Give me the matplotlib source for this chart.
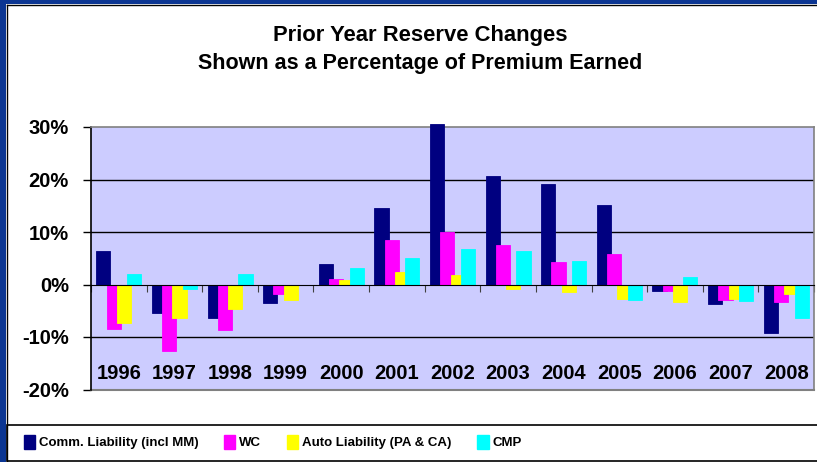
import matplotlib
matplotlib.use("Agg")
import matplotlib.pyplot as plt
import numpy as np
from matplotlib.patches import Patch, Rectangle
from matplotlib.transforms import blended_transform_factory

plt.rcParams['font.family'] = ['Liberation Sans', 'DejaVu Sans']

years = ["1996", "1997", "1998", "1999", "2000", "2001", "2002",
         "2003", "2004", "2005", "2006", "2007", "2008"]
comm_liability = [6.4, -5.4, -6.3, -3.5, 4.0, 14.5, 30.6, 20.6, 19.2, 15.2, -1.3, -3.8, -9.3]
wc = [-8.5, -12.6, -8.7, -1.8, 1.1, 8.4, 10.0, 7.6, 4.2, 5.9, -1.3, -3.0, -3.4]
auto_liability = [-7.3, -6.3, -4.6, -3.0, 0.9, 2.3, 1.8, -0.8, -1.5, -2.7, -3.4, -2.7, -1.8]
cmp_ = [2.0, -0.8, 2.0, 0.0, 3.1, 5.1, 6.7, 6.4, 4.5, -2.9, 1.5, -3.2, -6.3]

series_names = ["Comm. Liability (incl MM)", "WC", "Auto Liability (PA & CA)", "CMP"]
series = [comm_liability, wc, auto_liability, cmp_]
colors = ["#000080", "#FF00FF", "#FFFF00", "#00FFFF"]
y_ticks = [-20, -10, 0, 10, 20, 30]

W, H = 817, 462
fig = plt.figure(figsize=(W / 100, H / 100), dpi=100)
fig.patch.set_facecolor("white")

# frame strips (left and top blue border)
fig.patches.append(Rectangle((0, 0), 6 / W, 1, transform=fig.transFigure,
                             facecolor="#0B3592", edgecolor="none", zorder=0))
fig.patches.append(Rectangle((0, 1 - 4 / H), 1, 4 / H, transform=fig.transFigure,
                             facecolor="#0B3592", edgecolor="none", zorder=0))
fig.lines.append(plt.Line2D([6.5 / W, 6.5 / W], [0, 1 - 4.5 / H], transform=fig.transFigure,
                            color="black", lw=1))
fig.lines.append(plt.Line2D([6.5 / W, 1], [1 - 4.5 / H, 1 - 4.5 / H], transform=fig.transFigure,
                            color="black", lw=1))

left, right = 91 / W, 814 / W
bottom, top = 1 - 389.5 / H, 1 - 127 / H
ax = fig.add_axes([left, bottom, right - left, top - bottom])
ax.set_facecolor("#CCCCFF")

x = np.arange(len(years))
bw = 0.255
step = 0.185
offsets = (np.arange(4) - 1.5) * step
for i, (vals, c) in enumerate(zip(series, colors)):
    ax.bar(x + offsets[i], vals, width=bw, color=c, edgecolor=c, linewidth=0.6,
           zorder=3 + i, clip_on=False)

ax.set_xlim(-0.5, len(years) - 0.5)
ax.set_ylim(-20, 30)

for yv in [-10, 10, 20]:
    ax.axhline(yv, color="black", lw=1.0, zorder=1)
ax.axhline(-20, color="#808080", lw=1.5, zorder=2, clip_on=False)

ax.spines['bottom'].set_position(('data', 0))
ax.spines['bottom'].set_color("black")
ax.spines['bottom'].set_zorder(10)
ax.spines['top'].set_color("#808080")
ax.spines['right'].set_color("#808080")
ax.spines['left'].set_color("black")
ax.spines['top'].set_linewidth(1.2)
ax.spines['right'].set_linewidth(1.2)
ax.spines['left'].set_linewidth(1.2)

ax.set_xticks(np.arange(len(years) + 1) - 0.5)
ax.set_xticklabels([])
ax.tick_params(axis='x', direction='out', length=5, width=0.8, color="#404040")

ax.set_yticks(y_ticks)
ax.set_yticklabels([f"{v}%" for v in y_ticks], fontsize=14.5, fontweight="bold")
ax.tick_params(axis='y', direction='out', length=6, width=1, pad=10)

trans = blended_transform_factory(ax.transData, ax.transAxes)
for xi, yr in zip(x, years):
    ax.text(xi, 0.025, yr, transform=trans, ha="center", va="bottom",
            fontsize=14.5, fontweight="bold", zorder=20)

fig.text(420 / W, 1 - 35 / H, "Prior Year Reserve Changes", ha="center", va="center",
         fontsize=15.8, fontweight="bold")
fig.text(420 / W, 1 - 63 / H, "Shown as a Percentage of Premium Earned", ha="center",
         va="center", fontsize=15.5, fontweight="bold")

# legend box
fig.patches.append(Rectangle((7 / W, 1 / H), 1 - 6 / W, 36.5 / H, transform=fig.transFigure,
                             facecolor="white", edgecolor="black", lw=1.2, zorder=1))

handles = [Patch(facecolor=c, edgecolor=c) for c in colors]
leg = fig.legend(handles, series_names, loc="center left",
                 bbox_to_anchor=(17 / W, 1 - 442 / H), ncol=4, frameon=False,
                 handlelength=0.85, handleheight=1.25, handletextpad=0.3,
                 columnspacing=1.95, borderpad=0,
                 prop={"family": "Liberation Sans", "weight": "bold", "size": 9.5})

fig.savefig("out.png", dpi=100)
